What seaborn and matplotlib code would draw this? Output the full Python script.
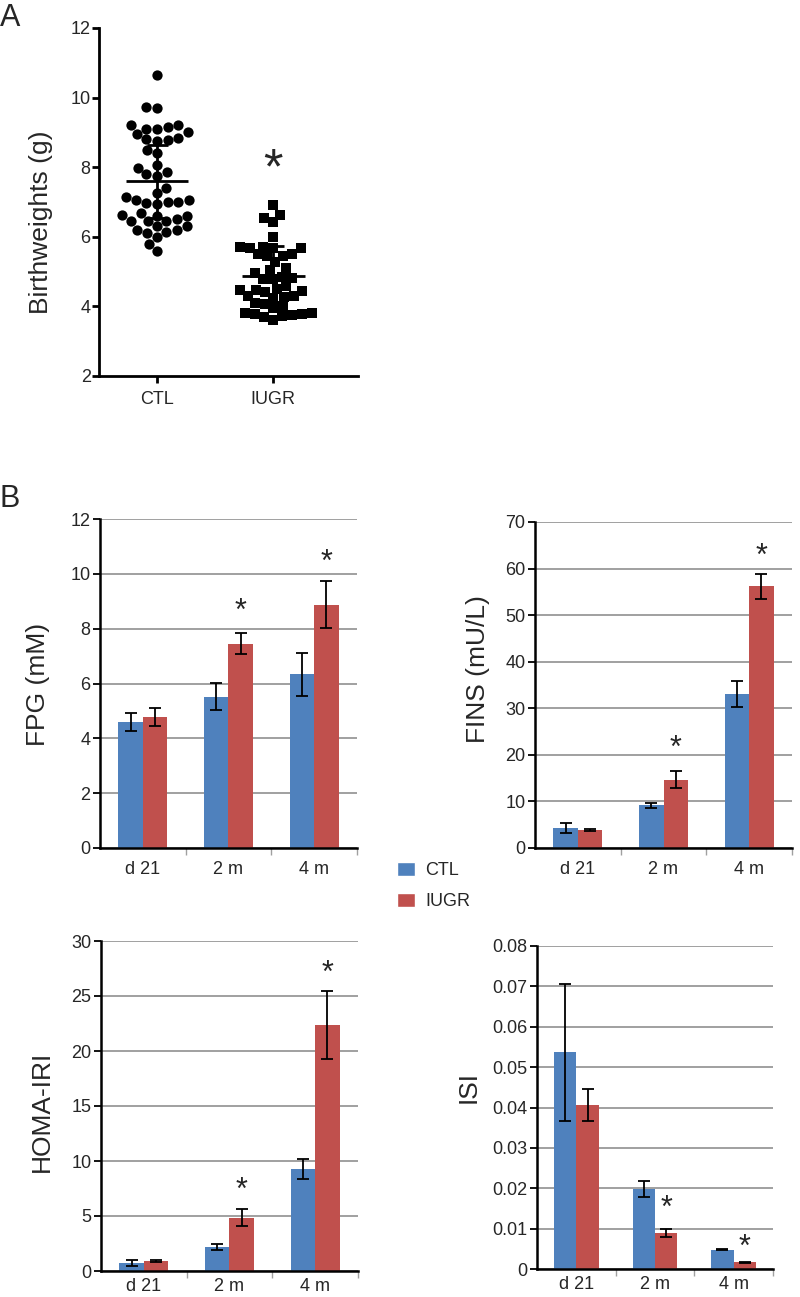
import numpy as np
import pandas as pd
import matplotlib
matplotlib.use("Agg")
import matplotlib.pyplot as plt
import seaborn as sns
from matplotlib.patches import Patch
from matplotlib.ticker import FuncFormatter

# ---- panel A: birthweights (g) ----
ctl_weights = [10.66, 9.7, 9.72, 9.2, 9.2, 9.1, 9.0, 8.85, 8.78, 8.75, 8.8, 8.95,
               9.1, 9.15, 8.5, 8.4, 8.05, 7.97, 7.87, 7.8, 7.75, 7.4, 7.25, 7.15,
               7.06, 7.0, 6.98, 6.95, 7.0, 7.05, 6.67, 6.6, 6.5, 6.45, 6.62, 6.6,
               6.45, 6.3, 6.2, 6.15, 6.2, 6.3, 6.45, 6.0, 6.1, 5.6, 5.8]
iugr_weights = [6.91, 6.63, 6.53, 6.43, 6.0, 5.72, 5.67, 5.7, 5.67, 5.67, 5.45,
                5.5, 5.52, 5.28, 5.45, 5.1, 5.04, 4.95, 4.8, 4.78, 4.82, 4.85,
                4.6, 4.47, 4.5, 4.47, 4.45, 4.4, 4.3, 4.27, 4.3, 4.25, 4.1, 4.08,
                4.0, 3.95, 3.8, 3.78, 3.75, 3.78, 3.8, 3.72, 3.6, 3.7]
weight_groups = ["CTL", "IUGR"]
weight_mean = [7.6, 4.87]
weight_sd = [1.05, 0.87]
weight_star = [None, 7.9]

# ---- panel B ----
ages = ["d 21", "2 m", "4 m"]
groups = ["CTL", "IUGR"]

fpg_ctl = [4.58, 5.52, 6.33]
fpg_ctl_err = [0.33, 0.5, 0.8]
fpg_iugr = [4.78, 7.45, 8.88]
fpg_iugr_err = [0.33, 0.38, 0.87]
fpg_star = [None, 8.6, 10.4]

fins_ctl = [4.37, 9.16, 33.0]
fins_ctl_err = [1.1, 0.6, 2.8]
fins_iugr = [3.94, 14.67, 56.2]
fins_iugr_err = [0.2, 1.8, 2.7]
fins_star = [None, 21.3, 62.4]

homa_ctl = [0.73, 2.18, 9.28]
homa_ctl_err = [0.3, 0.3, 0.94]
homa_iugr = [0.91, 4.85, 22.39]
homa_iugr_err = [0.1, 0.75, 3.1]
homa_star = [None, 7.3, 27.0]

isi_ctl = [0.0537, 0.0198, 0.0048]
isi_ctl_err = [0.017, 0.002, 0.0002]
isi_iugr = [0.0406, 0.0089, 0.0017]
isi_iugr_err = [0.004, 0.001, 0.0001]
isi_star = [None, 0.0148, 0.0053]

BLUE = "#4F81BD"
RED = "#C0504D"
GRID = "#A0A0A0"

sns.set_style("ticks")
plt.rcParams["font.family"] = ["Liberation Sans", "DejaVu Sans"]
plt.rcParams["axes.edgecolor"] = "black"

W, H = 800, 1297
fig = plt.figure(figsize=(W / 100, H / 100), dpi=100)


def px_axes(left, top, right, bottom):
    return fig.add_axes([left / W, 1 - bottom / H, (right - left) / W, (bottom - top) / H])


# ---------------- panel A ----------------
axA = px_axes(99, 28, 358, 376)
dfA = pd.DataFrame({"group": ["CTL"] * len(ctl_weights) + ["IUGR"] * len(iugr_weights),
                    "weight": ctl_weights + iugr_weights})
sns.swarmplot(data=dfA[dfA.group == "CTL"], x="group", y="weight", order=weight_groups,
              marker="o", color="black", size=7.4, ax=axA)
sns.swarmplot(data=dfA[dfA.group == "IUGR"], x="group", y="weight", order=weight_groups,
              marker="s", color="black", size=6.8, ax=axA)
for i, (m, sd) in enumerate(zip(weight_mean, weight_sd)):
    axA.hlines(m, i - 0.27, i + 0.27, color="black", lw=2)
    axA.vlines(i, m - sd, m + sd, color="black", lw=2)
    axA.hlines([m - sd, m + sd], i - 0.09, i + 0.09, color="black", lw=2)
for i, s in enumerate(weight_star):
    if s is not None:
        axA.text(i, s, "*", ha="center", va="center", fontsize=36)
axA.set_xlim(-0.5, 1.73)
axA.set_ylim(2, 12)
axA.set_yticks(range(2, 13, 2))
axA.set_xlabel("")
axA.set_ylabel("Birthweights (g)", fontsize=19)
axA.yaxis.set_label_coords(-0.178, 0.443)
for side in ["top", "right"]:
    axA.spines[side].set_visible(False)
for side in ["left", "bottom"]:
    axA.spines[side].set_linewidth(2)
axA.tick_params(axis="both", length=5, width=2, labelsize=13, color="black")
axA.tick_params(axis="y", pad=1)
axA.tick_params(axis="x", pad=6)


# ---------------- panel B ----------------
def draw_bars(ax, ctl, ctl_err, iugr, iugr_err, stars, ymax, ystep, ylabel, label_xy,
              xpad=9):
    df = pd.DataFrame({"age": ages * 2,
                       "group": ["CTL"] * 3 + ["IUGR"] * 3,
                       "value": ctl + iugr})
    sns.barplot(data=df, x="age", y="value", hue="group", order=ages, hue_order=groups,
                palette=[BLUE, RED], saturation=1, width=0.57, errorbar=None,
                linewidth=0, legend=False, ax=ax)
    for cont, vals, errs in zip(ax.containers, [ctl, iugr], [ctl_err, iugr_err]):
        xs = [p.get_x() + p.get_width() / 2 for p in cont]
        ax.errorbar(xs, vals, yerr=errs, fmt="none", ecolor="black", elinewidth=1.3,
                    capsize=4.5, capthick=1.3, zorder=4)
    for p, s in zip(ax.containers[1], stars):
        if s is not None:
            ax.text(p.get_x() + p.get_width() / 2, s, "*", ha="center", va="center",
                    fontsize=22)
    ax.set_xlim(-0.5, 2.5)
    ax.set_ylim(0, ymax)
    ax.set_yticks(np.arange(0, ymax + ystep / 2, ystep))
    ax.yaxis.set_major_formatter(FuncFormatter(lambda v, _: f"{round(v, 4):g}"))
    ax.yaxis.grid(True, color=GRID, lw=1.4)
    ax.set_axisbelow(True)
    ax.set_xlabel("")
    ax.set_ylabel(ylabel, fontsize=19)
    ax.yaxis.set_label_coords(*label_xy)
    for side in ["top", "right"]:
        ax.spines[side].set_visible(False)
    for side in ["left", "bottom"]:
        ax.spines[side].set_linewidth(1.8)
    ax.set_xticks([0.5, 1.5, 2.5], minor=True)
    ax.tick_params(axis="x", which="major", length=0, pad=xpad, labelsize=13)
    ax.tick_params(axis="x", which="minor", length=5, width=1, color=GRID)
    ax.tick_params(axis="y", length=5, width=1.3, pad=2, labelsize=13, color="black")


axFPG = px_axes(100, 519, 357, 848)
draw_bars(axFPG, fpg_ctl, fpg_ctl_err, fpg_iugr, fpg_iugr_err, fpg_star,
          12, 2, "FPG (mM)", (-0.195, 0.498))

axFINS = px_axes(535, 522, 792, 848)
draw_bars(axFINS, fins_ctl, fins_ctl_err, fins_iugr, fins_iugr_err, fins_star,
          70, 10, "FINS (mU/L)", (-0.175, 0.549))

axHOMA = px_axes(101, 941, 358, 1271)
draw_bars(axHOMA, homa_ctl, homa_ctl_err, homa_iugr, homa_iugr_err, homa_star,
          30, 5, "HOMA-IRI", (-0.185, 0.485), xpad=5)

axISI = px_axes(537, 946, 773, 1269)
draw_bars(axISI, isi_ctl, isi_ctl_err, isi_iugr, isi_iugr_err, isi_star,
          0.08, 0.01, "ISI", (-0.239, 0.563), xpad=5)

handles = [Patch(facecolor=BLUE), Patch(facecolor=RED)]
fig.legend(handles, groups, loc="upper left", bbox_to_anchor=(397 / W, 1 - 862 / H),
           frameon=False, fontsize=13, handlelength=1.0, handleheight=0.8,
           handletextpad=0.55, labelspacing=0.75, borderpad=0, borderaxespad=0)

fig.text(0 / W, 1 - 3 / H, "A", fontsize=22, ha="left", va="top")
fig.text(0 / W, 1 - 484 / H, "B", fontsize=22, ha="left", va="top")

fig.savefig("out.png", dpi=100)
